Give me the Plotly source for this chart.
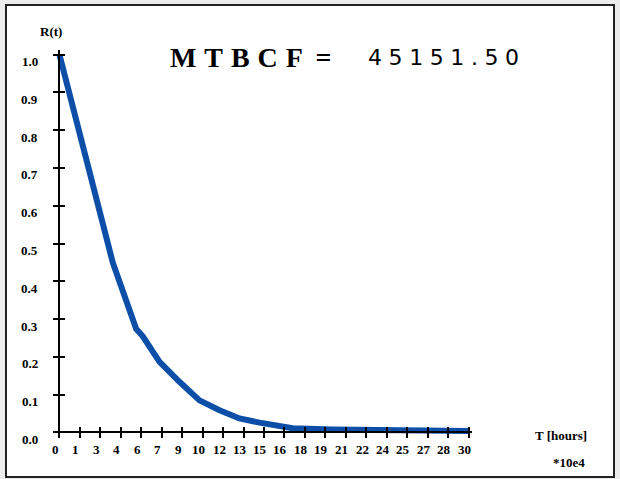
import plotly.graph_objects as go

# data (t in units of 1e4 hours)
t_vals = [0, 0.70, 1.39, 2.10, 2.81, 3.18, 3.91, 4.77, 5.63, 6.1, 7.34, 8.80, 10.27, 11.74,
          13.2, 14.67, 16.14, 17.1, 20.0, 25.0, 30.0]
r_vals = [1.0, 0.90, 0.80, 0.70, 0.60, 0.54, 0.45, 0.362, 0.274, 0.255, 0.187, 0.134, 0.085,
          0.059, 0.037, 0.026, 0.019, 0.011, 0.008, 0.005, 0.004]
x_tick_vals = [i * 1.5 for i in range(21)]
x_tick_text = ["0", "1", "3", "4", "6", "7", "9", "10", "12", "13", "15", "16", "18", "19",
               "21", "22", "24", "25", "27", "28", "30"]
y_tick_vals = [i / 10 for i in range(11)]
y_tick_text = [f"{v:.1f}" for v in y_tick_vals]
mtbcf_label = "MTBCF"
mtbcf_value = "45151.50"

W, H = 620, 479
xr = [-0.25, 30.25]
yr = [-0.012, 1.012]
ml, mr, mt, mb = 56, 148, 50, 42

def pxx(p):
    return (p - ml) / (W - ml - mr)

def pxy(p):
    return (H - mb - p) / (H - mt - mb)

xpos = (0 - yr[0]) / (yr[1] - yr[0])
ypos = (0 - xr[0]) / (xr[1] - xr[0])

fig = go.Figure()
fig.add_trace(go.Scatter(x=t_vals, y=r_vals, mode="lines",
                         line=dict(color="#0d4fa8", width=6), hoverinfo="skip",
                         showlegend=False))
fig.add_trace(go.Scatter(x=[t_vals[0]], y=[r_vals[0]], xaxis="x2", yaxis="y2",
                         mode="markers", marker=dict(opacity=0), showlegend=False,
                         hoverinfo="skip"))

axis_common = dict(showgrid=False, zeroline=False, showticklabels=False,
                   tickcolor="black", tickwidth=1.5, ticklen=5)
fig.update_layout(
    width=W, height=H,
    margin=dict(l=ml, r=mr, t=mt, b=mb),
    paper_bgcolor="#ececec", plot_bgcolor="rgba(0,0,0,0)",
    xaxis=dict(range=xr, tickvals=x_tick_vals, ticks="outside", showline=True,
               linecolor="black", linewidth=2, anchor="free", position=xpos, **axis_common),
    yaxis=dict(range=yr, tickvals=y_tick_vals, ticks="outside", showline=True,
               linecolor="black", linewidth=2, anchor="free", position=ypos, **axis_common),
    xaxis2=dict(range=xr, tickvals=x_tick_vals, ticks="inside", showline=False,
                overlaying="x", anchor="free", position=xpos, **axis_common),
    yaxis2=dict(range=yr, tickvals=y_tick_vals, ticks="inside", showline=False,
                overlaying="y", anchor="free", position=ypos, **axis_common),
)

# frame
fig.add_shape(type="rect", xref="paper", yref="paper", x0=pxx(6), x1=pxx(614),
              y0=pxy(477), y1=pxy(5), fillcolor="white",
              line=dict(color="#222", width=2), layer="below")

lab_font = dict(family="Liberation Serif", size=13, color="black")
ann = []
for v, s in zip(y_tick_vals, y_tick_text):
    ann.append(dict(x=pxx(40), y=v, xref="paper", yref="y", text=f"<b>{s}</b>",
                    showarrow=False, xanchor="right", yanchor="middle", yshift=-7,
                    font=lab_font))
for v, s in zip(x_tick_vals, x_tick_text):
    ann.append(dict(x=v, y=pxy(450), xref="x", yref="paper", text=f"<b>{s}</b>",
                    showarrow=False, xanchor="center", yanchor="middle", xshift=-4,
                    font=lab_font))
small_font = dict(family="Liberation Serif", size=13, color="black")
ann.append(dict(x=pxx(51), y=pxy(32), xref="paper", yref="paper", text="<b>R(t)</b>",
                showarrow=False, xanchor="center", yanchor="middle", font=small_font))
ann.append(dict(x=pxx(561), y=pxy(435), xref="paper", yref="paper", text="<b>T [hours]</b>",
                showarrow=False, xanchor="center", yanchor="middle", font=small_font))
ann.append(dict(x=pxx(569), y=pxy(462), xref="paper", yref="paper", text="<b>*10e4</b>",
                showarrow=False, xanchor="center", yanchor="middle", font=small_font))
gap2 = "\u2009\u200a"
ann.append(dict(x=pxx(250), y=pxy(58), xref="paper", yref="paper",
                text="<b>" + gap2.join(mtbcf_label) + "\u00a0\u2009=</b>",
                showarrow=False, xanchor="center", yanchor="middle",
                font=dict(family="Liberation Serif", size=28, color="black")))
gapv = "\u2009\u200a"
ann.append(dict(x=pxx(443), y=pxy(58), xref="paper", yref="paper",
                text=gapv.join(mtbcf_value),
                showarrow=False, xanchor="center", yanchor="middle",
                font=dict(family="DejaVu Sans", size=22, color="black")))
fig.update_layout(annotations=ann)

fig.write_html("out.html", config={"displayModeBar": False},
               post_script="document.body.style.margin='0px';")
